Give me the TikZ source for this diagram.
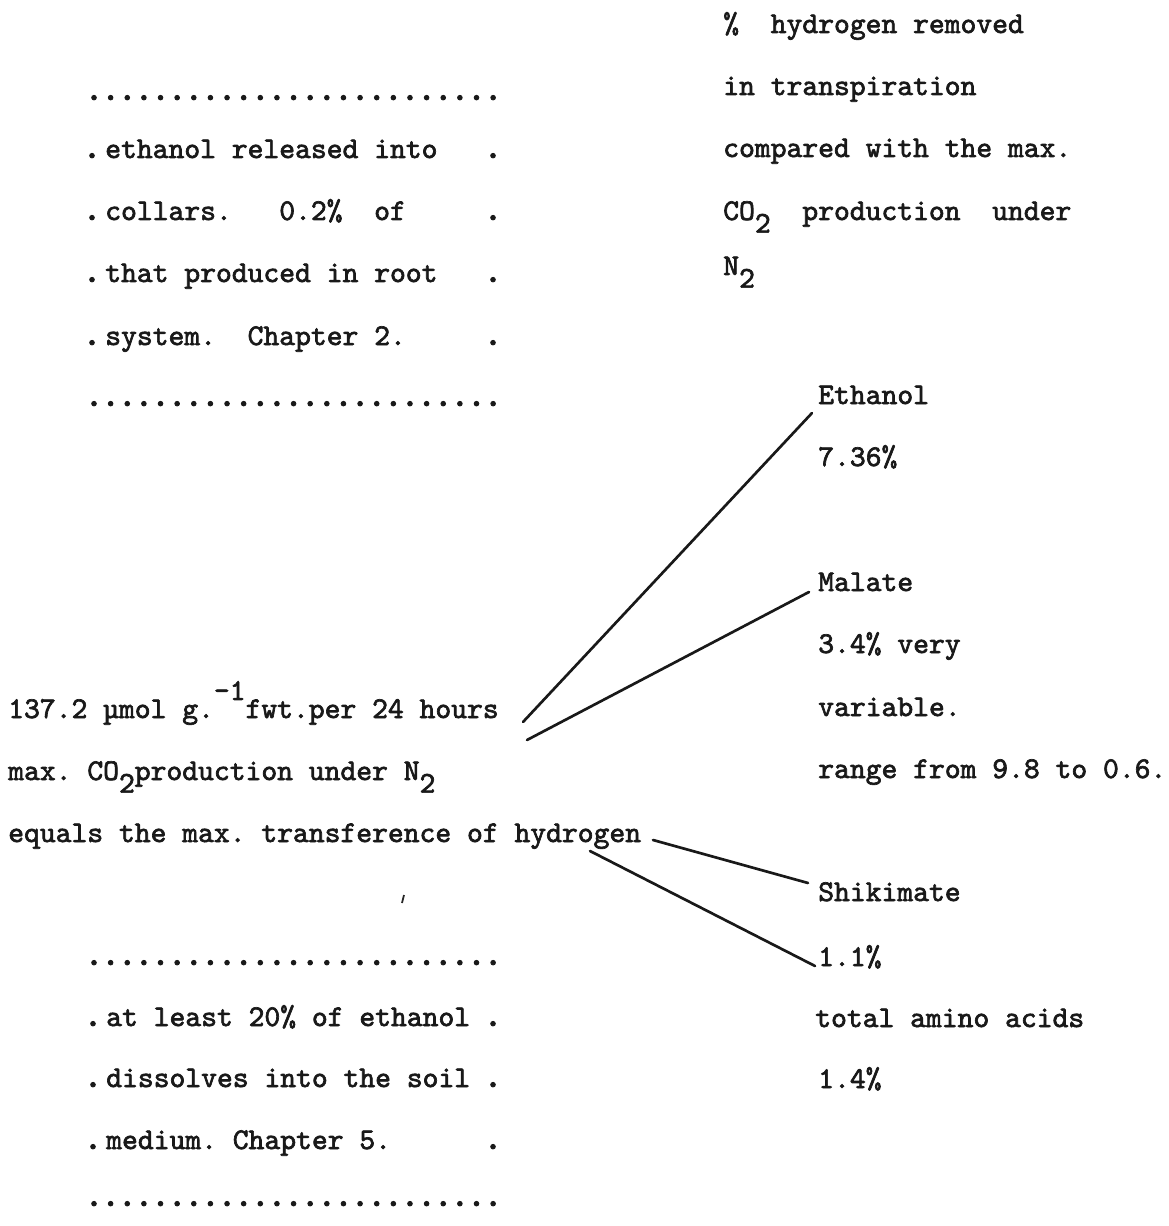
\documentclass[tikz,border=0pt]{standalone}
\usepackage{fontspec}
\setmainfont{lmmono10-regular.otf}[FakeBold=2.2]
\frenchspacing
\tikzset{
  tw/.style={font=\fontsize{22.6pt}{26pt}\selectfont, inner sep=0pt, anchor=base west, text=black!90},
  dotc/.style={font=\fontsize{28pt}{30pt}\selectfont, inner sep=0pt, anchor=base, text=black!90},
  link/.style={line width=2pt, black!90, line cap=round}
}
\newcommand{\subtwo}{\raisebox{-0.42em}{2}}
\begin{document}
\begin{tikzpicture}[x=0.75pt,y=-0.75pt]
\useasboundingbox (0,0) rectangle (1168,1226);
\fill[white] (0,0) rectangle (1168,1226);

% top right note
\node[tw] (h1) at (723,33) {\%~~hydrogen removed};
\node[tw] (h2) at (723,95) {in transpiration};
\node[tw] (h3) at (723,157) {compared with the max.};
\node[tw] (h4) at (723,220) {CO\subtwo~~production~~under};
\node[tw] (h5) at (723,275) {N\subtwo};

% top left box
\foreach \i in {0,...,24} {\node[dotc] (ta\i) at (94+16.63*\i,100) {.};}
\foreach \n/\y/\t in {1/158/ethanol released into,
                      2/220/collars.~~~0.2\%~~of,
                      3/282/that produced in root,
                      4/345/system.~~Chapter 2.} {
  \node[dotc] (tl\n) at (92,\y) {.};
  \node[tw] (t\n) at (105,\y) {\t};
  \node[dotc] (tr\n) at (493,\y) {.};
}
\foreach \i in {0,...,24} {\node[dotc] (tb\i) at (94+16.63*\i,406) {.};}

% middle left statement
\node[tw] (m1) at (8,718) {137.2 µmol g.\raisebox{0.6em}{-1}fwt.per 24 hours};
\node[tw] (m2) at (8,780) {max. CO\subtwo production under N\subtwo};
\node[tw] (m3) at (8,842) {equals the max. transference of hydrogen};

% bottom left box
\foreach \i in {0,...,24} {\node[dotc] (ba\i) at (94+16.63*\i,965) {.};}
\foreach \n/\y/\t in {1/1026/at least 20\% of ethanol,
                      2/1087/dissolves into the soil,
                      3/1149/medium. Chapter 5.} {
  \node[dotc] (bl\n) at (93,\y) {.};
  \node[tw] (b\n) at (106,\y) {\t};
  \node[dotc] (br\n) at (493,\y) {.};
}
\foreach \i in {0,...,24} {\node[dotc] (bb\i) at (94+16.63*\i,1206) {.};}

% right column
\node[tw] (r1) at (818,404) {Ethanol};
\node[tw] (r2) at (818,466) {7.36\%};
\node[tw] (r3) at (818,591) {Malate};
\node[tw] (r4) at (818,653) {3.4\% very};
\node[tw] (r5) at (818,716) {variable.};
\node[tw] (r6) at (818,778) {range from 9.8 to 0.6.};
\node[tw] (r7) at (818,901) {Shikimate};
\node[tw] (r8) at (818,966) {1.1\%};
\node[tw] (r9) at (815,1027) {total amino acids};
\node[tw] (r10) at (818,1088) {1.4\%};

% connector ends
\coordinate (eS) at (523,722);
\coordinate (eE) at (812,413);
\coordinate (mS) at (527,740);
\coordinate (mE) at (809,592);
\coordinate (sS) at (653,840);
\coordinate (sE) at (808,883);
\coordinate (aS) at (590,851);
\coordinate (aE) at (815,966);
\draw[link] (eS) -- (eE);
\draw[link] (mS) -- (mE);
\draw[link] (sS) -- (sE);
\draw[link] (aS) -- (aE);

% stray mark
\coordinate (k1) at (404,895);
\coordinate (k2) at (402,903);
\draw[line width=1.3pt, black!85] (k1) -- (k2);
\end{tikzpicture}
\end{document}
